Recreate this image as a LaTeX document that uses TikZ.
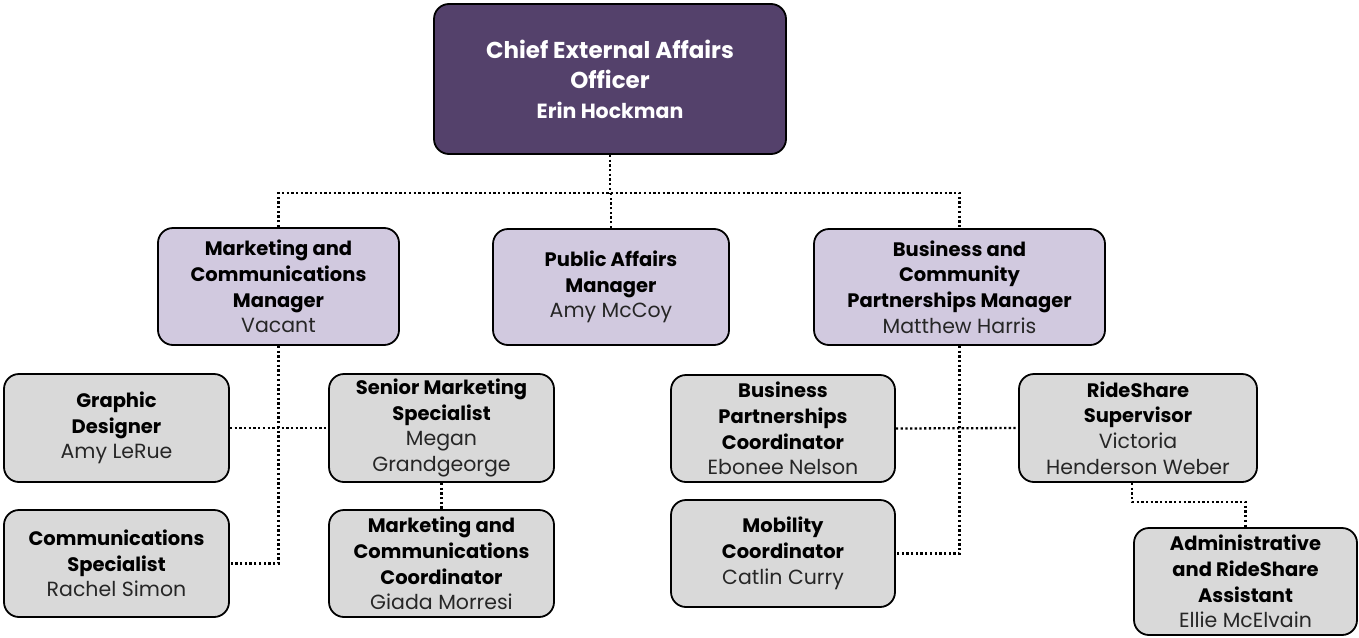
\documentclass[tikz,border=0pt]{standalone}
\usepackage{fontspec}
\setmainfont{Poppins}
\definecolor{ceofill}{HTML}{54416B}
\definecolor{mgrfill}{HTML}{D1C9DF}
\definecolor{stafffill}{HTML}{D9D9D9}
\definecolor{nametext}{HTML}{262626}
\tikzset{
  box/.style={draw=black, line width=1.8pt, rounded corners=15pt, align=center, inner sep=0pt, anchor=center,
    font=\fontsize{19.5}{25.7}\selectfont},
  ceobox/.style={box, fill=ceofill, text=white, minimum width=352pt, minimum height=150pt,
    font=\fontsize{23}{30}\selectfont},
  mgrbox/.style={box, fill=mgrfill},
  staffbox/.style={box, fill=stafffill},
  conn/.style={draw=black, line width=2.3pt, dash pattern=on 2.3pt off 2.4pt}
}
\newcommand{\pname}[1]{{\color{nametext}\fontsize{20.5}{25.7}\fontseries{m}\selectfont #1}}
\begin{document}
\begin{tikzpicture}[x=1pt,y=-1pt]
\useasboundingbox (0,0) rectangle (1359,637);
% top
\node[ceobox] (ceo) at (610,79) {\textbf{Chief External Affairs}\\\textbf{Officer}\\{\fontsize{20.5}{29}\selectfont\textbf{Erin Hockman}}};
% managers
\node[mgrbox, minimum width=241pt, minimum height=117pt] (mkt) at (278.5,286.5)
  {\textbf{Marketing and}\\\textbf{Communications}\\\textbf{Manager}\\\pname{Vacant}};
\node[mgrbox, minimum width=236pt, minimum height=116pt] (pa) at (611,287)
  {\textbf{Public Affairs}\\\textbf{Manager}\\\pname{Amy McCoy}};
\node[mgrbox, minimum width=291pt, minimum height=116pt] (bus) at (959.5,287)
  {\textbf{Business and}\\\textbf{Community}\\\textbf{Partnerships Manager}\\\pname{Matthew Harris}};
% staff
\node[staffbox, minimum width=225pt, minimum height=108pt] (gd) at (116.5,428)
  {\textbf{Graphic}\\\textbf{Designer}\\\pname{Amy LeRue}};
\node[staffbox, minimum width=225pt, minimum height=107pt] (cs) at (116.5,563.5)
  {\textbf{Communications}\\\textbf{Specialist}\\\pname{Rachel Simon}};
\node[staffbox, minimum width=225pt, minimum height=108pt] (sms) at (441.5,428)
  {\textbf{Senior Marketing}\\\textbf{Specialist}\\\pname{Megan}\\\pname{Grandgeorge}};
\node[staffbox, minimum width=225pt, minimum height=107pt] (mcc) at (441.5,563.5)
  {\textbf{Marketing and}\\\textbf{Communications}\\\textbf{Coordinator}\\\pname{Giada Morresi}};
\node[staffbox, minimum width=224pt, minimum height=107pt] (bpc) at (783,428.5)
  {\textbf{Business}\\\textbf{Partnerships}\\\textbf{Coordinator}\\\pname{Ebonee Nelson}};
\node[staffbox, minimum width=224pt, minimum height=107pt] (mob) at (783,553.5)
  {\textbf{Mobility}\\\textbf{Coordinator}\\\pname{Catlin Curry}};
\node[staffbox, minimum width=238pt, minimum height=108pt] (rs) at (1138,428)
  {\textbf{RideShare}\\\textbf{Supervisor}\\\pname{Victoria}\\\pname{Henderson Weber}};
\node[staffbox, minimum width=223pt, minimum height=107pt] (adm) at (1245.5,581.5)
  {\textbf{Administrative}\\\textbf{and RideShare}\\\textbf{Assistant}\\\pname{Ellie McElvain}};
% connectors
\draw[conn] (ceo.south) -- ++(0,38) coordinate (j0);
\draw[conn] (mkt.north) |- (j0) -| (bus.north);
\draw[conn] (pa.north) -- (pa.north |- j0);
\draw[conn] (mkt.south) |- (cs.east);
\draw[conn] (gd.east) -- (sms.west);
\draw[conn] (sms.south) -- (mcc.north);
\draw[conn] (bus.south) |- (mob.east);
\draw[conn] (bpc.east) -- (rs.west);
\draw[conn] ([xshift=-6pt]rs.south) -- ++(0,19) -| (adm.north);
\end{tikzpicture}
\end{document}
